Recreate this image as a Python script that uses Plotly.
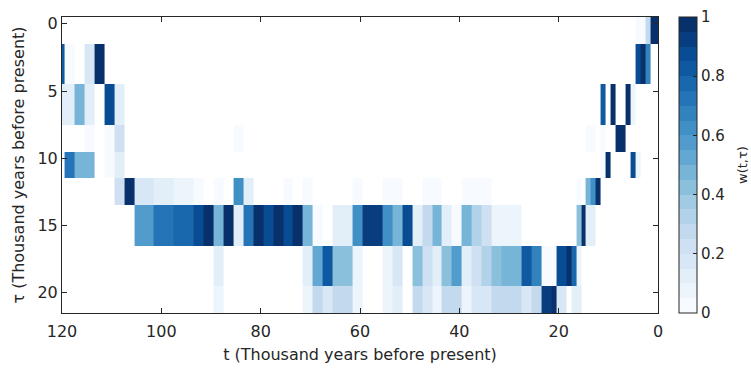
import plotly.graph_objects as go

# time grid (kyr before present), one column per kyr
t_values = list(range(0, 121))
# row edges in tau (kyr)
tau_edges = [-0.5, 1.5, 4.5, 7.5, 9.5, 11.5, 13.5, 16.5, 19.5, 21.5]

# runs per row: (t_high, t_low, weight), inclusive column centers
row_0 = [(4, 3, 0.03), (2, 2, 0.25), (1, 0, 0.95)]
row_1 = [(120, 120, 0.8), (119, 118, 0.03), (115, 114, 0.15), (113, 112, 0.95),
         (4, 4, 0.85), (3, 3, 1.0), (2, 2, 0.65)]
row_2 = [(120, 118, 0.12), (117, 116, 0.45), (115, 114, 0.12), (111, 110, 0.85),
         (109, 108, 0.12), (11, 11, 0.8), (9, 9, 0.97), (6, 6, 0.97), (5, 5, 0.08)]
row_3 = [(115, 114, 0.03), (111, 110, 0.03), (109, 108, 0.22), (85, 84, 0.03),
         (14, 13, 0.03), (11, 11, 0.03), (8, 7, 0.97)]
row_4 = [(119, 118, 0.7), (117, 114, 0.45), (111, 110, 0.03), (109, 108, 0.1),
         (11, 11, 0.03), (10, 10, 0.97), (5, 5, 0.85), (4, 4, 0.06)]
row_5 = [(109, 108, 0.2), (107, 106, 1.0), (105, 102, 0.15), (101, 98, 0.12),
         (97, 94, 0.08), (93, 92, 0.03), (89, 88, 0.03), (85, 84, 0.62),
         (83, 82, 0.12), (75, 74, 0.03), (71, 70, 0.03), (61, 60, 0.03),
         (55, 52, 0.03), (47, 44, 0.03), (39, 34, 0.03), (16, 16, 0.03),
         (14, 14, 0.45), (13, 13, 0.6), (12, 12, 0.97)]
row_6 = [(105, 102, 0.55), (101, 98, 0.7), (97, 94, 0.75), (93, 92, 0.85),
         (91, 90, 0.95), (89, 88, 0.45), (87, 86, 1.0), (85, 84, 0.12),
         (83, 82, 0.7), (81, 80, 1.0), (79, 78, 0.85), (77, 76, 1.0),
         (75, 74, 0.85), (73, 72, 1.0), (71, 70, 0.45), (69, 68, 0.03),
         (65, 62, 0.12), (61, 60, 0.6), (59, 56, 0.9), (55, 54, 0.6),
         (53, 52, 0.45), (51, 50, 0.85), (49, 48, 0.12), (47, 46, 0.25),
         (45, 44, 0.45), (43, 42, 0.12), (41, 40, 0.03), (39, 38, 0.45),
         (37, 36, 0.3), (35, 34, 0.2), (33, 28, 0.08), (16, 16, 0.4),
         (15, 15, 1.0), (14, 13, 0.12)]
row_7 = [(89, 88, 0.12), (71, 70, 0.1), (69, 68, 0.5), (67, 66, 0.8),
         (65, 62, 0.42), (61, 60, 0.07), (55, 54, 0.07), (53, 52, 0.15),
         (49, 48, 0.42), (47, 46, 0.2), (45, 44, 0.12), (43, 42, 0.42),
         (41, 40, 0.55), (39, 38, 0.12), (37, 36, 0.2), (35, 34, 0.3),
         (33, 32, 0.4), (31, 28, 0.45), (27, 26, 0.8), (25, 24, 0.65),
         (23, 21, 0.02), (20, 19, 0.85), (18, 18, 1.0), (17, 17, 0.75),
         (16, 16, 0.06)]
row_8 = [(89, 88, 0.06), (71, 70, 0.07), (69, 68, 0.25), (67, 66, 0.18),
         (65, 62, 0.25), (61, 60, 0.07), (55, 54, 0.07), (53, 52, 0.12),
         (49, 48, 0.25), (47, 46, 0.18), (45, 44, 0.07), (43, 42, 0.25),
         (41, 40, 0.25), (39, 38, 0.07), (37, 34, 0.15), (33, 28, 0.25),
         (27, 26, 0.18), (25, 24, 0.25), (23, 22, 0.92), (21, 21, 1.0),
         (20, 19, 0.15), (17, 17, 0.12), (16, 16, 0.1)]
rows = [row_0, row_1, row_2, row_3, row_4, row_5, row_6, row_7, row_8]

colorbar_ticks = [0, 0.2, 0.4, 0.6, 0.8, 1]
colorbar_labels = ["0", "0.2", "0.4", "0.6", "0.8", "1"]
x_ticks = [0, 20, 40, 60, 80, 100, 120]
y_ticks = [0, 5, 10, 15, 20]

# build z
z = []
for runs in rows:
    line = [None] * len(t_values)
    for hi, lo, w in runs:
        for i, t in enumerate(t_values):
            if lo <= t <= hi:
                line[i] = w
    z.append(line)

# discrete 20-level Blues colorscale
blues9 = ["#f7fbff", "#deebf7", "#c6dbef", "#9ecae1", "#6baed6",
          "#4292c6", "#2171b5", "#08519c", "#08306b"]


def hex2rgb(h):
    return tuple(int(h[i:i + 2], 16) for i in (1, 3, 5))


def interp(p):
    pos = p * (len(blues9) - 1)
    i = min(int(pos), len(blues9) - 2)
    f = pos - i
    a, b = hex2rgb(blues9[i]), hex2rgb(blues9[i + 1])
    c = [round(a[k] + (b[k] - a[k]) * f) for k in range(3)]
    return "rgb(%d,%d,%d)" % tuple(c)


nlev = 20
cscale = []
for k in range(nlev):
    col = interp(k / (nlev - 1))
    cscale.append([k / nlev, col])
    cscale.append([(k + 1) / nlev, col])

font_family = "DejaVu Sans"
axis_color = "#262626"

fig = go.Figure(go.Heatmap(
    x=t_values, y=tau_edges, z=z,
    zmin=0, zmax=1, colorscale=cscale,
    hoverongaps=False,
    colorbar=dict(
        x=1.035, xanchor="left", y=0.5, yanchor="middle",
        len=1, lenmode="fraction", thickness=18, thicknessmode="pixels",
        outlinewidth=1, outlinecolor=axis_color,
        tickvals=colorbar_ticks, ticktext=colorbar_labels,
        ticks="inside", ticklen=4, tickcolor=axis_color,
        tickfont=dict(family=font_family, size=15, color=axis_color),
        xpad=0, ypad=0,
    ),
))

fig.update_xaxes(
    range=[120, 0], tickvals=x_ticks, ticks="inside", ticklen=5,
    tickcolor=axis_color, showline=True, linecolor=axis_color, linewidth=1,
    mirror="ticks", showgrid=False, zeroline=False, ticklabelstandoff=4,
    automargin=False,
    tickfont=dict(family=font_family, size=16, color=axis_color),
    title=dict(text="t (Thousand years before present)", standoff=8,
               font=dict(family=font_family, size=16, color=axis_color)),
)
fig.update_yaxes(
    range=[21.5, -0.5], tickvals=y_ticks, ticks="inside", ticklen=5,
    tickcolor=axis_color, showline=True, linecolor=axis_color, linewidth=1,
    mirror="ticks", showgrid=False, zeroline=False, automargin=False,
    tickfont=dict(family=font_family, size=16, color=axis_color),
    title=dict(text="τ (Thousand years before present)", standoff=8,
               font=dict(family=font_family, size=16, color=axis_color)),
)

fig.add_annotation(
    text="w(t,τ)", xref="paper", yref="paper",
    x=1 + (742 - 658) / 596, y=0.5, xanchor="center", yanchor="middle",
    textangle=-90, showarrow=False,
    font=dict(family=font_family, size=13, color=axis_color),
)

fig.update_layout(
    width=751, height=369,
    margin=dict(l=62, r=93, t=17, b=56),
    paper_bgcolor="white", plot_bgcolor="white",
    font=dict(family=font_family, color=axis_color),
)

fig.write_html("out.html")
